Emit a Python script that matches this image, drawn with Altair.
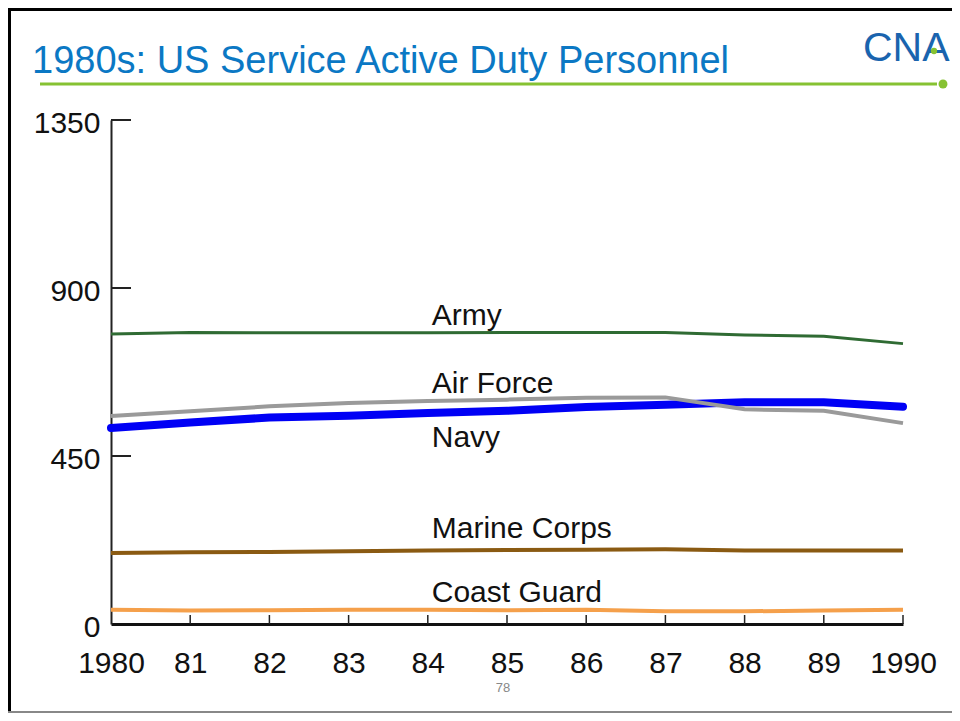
import altair as alt
import pandas as pd

# ---- data ----
years = list(range(1980, 1991))
army = [777, 781, 780, 780, 780, 781, 781, 781, 774, 771, 751]
air_force = [557, 570, 583, 592, 597, 601, 606, 607, 575, 571, 538]
navy = [525, 540, 553, 558, 565, 571, 581, 587, 594, 594, 582]
marine_corps = [190, 192, 193, 195, 197, 198, 199, 200, 197, 197, 197]
coast_guard = [38, 36, 37, 38, 38, 37, 38, 34, 34, 36, 38]

y_ticks = [0, 450, 900, 1350]

series_names = ["Army", "Marine Corps", "Coast Guard", "Navy", "Air Force"]
series_values = [army, marine_corps, coast_guard, navy, air_force]
series_colors = ["#2F6B33", "#8A5A12", "#F5A04B", "#0000F5", "#9A9A9A"]
series_widths = [3, 4, 4, 8, 4]

label_names = ["Army", "Air Force", "Navy", "Marine Corps", "Coast Guard"]
label_year = [1984.05, 1984.05, 1984.05, 1984.05, 1984.05]
label_value = [801, 619, 474, 230, 59]

title_text = "1980s: US Service Active Duty Personnel"
page_no = "78"

FONT = "Liberation Sans"
W, H = 792, 504

rows = []
for name, vals in zip(series_names, series_values):
    for yr, v in zip(years, vals):
        rows.append({"series": name, "year": yr, "value": v})
df = pd.DataFrame(rows)

xscale = alt.Scale(domain=[1980, 1990], nice=False, zero=False)
yscale = alt.Scale(domain=[0, 1350], nice=False)

x_axis = alt.Axis(
    values=years, format="d", title=None, ticks=False, grid=False,
    domainColor="#111", domainWidth=3, labelFontSize=30, labelFont=FONT,
    labelColor="#111", labelPadding=24, labelFlush=False, labelOverlap=False,
    labelExpr="(datum.value == 1980 || datum.value == 1990) ? toString(datum.value) : substring(toString(datum.value), 2)",
)
y_axis = alt.Axis(
    values=y_ticks, format="d", title=None, ticks=False, grid=False,
    domainColor="#222", domainWidth=2, labelFontSize=30, labelFont=FONT,
    labelColor="#111", labelPadding=11, labelOffset=3,
)

layers = []

# axes carrier (invisible)
base_axes = alt.Chart(df).mark_line(opacity=0).encode(
    x=alt.X("year:Q", scale=xscale, axis=x_axis),
    y=alt.Y("value:Q", scale=yscale, axis=y_axis),
    detail="series:N",
)
layers.append(base_axes)

# inward tick marks
ytick_df = pd.DataFrame({"v": y_ticks[1:]})
layers.append(
    alt.Chart(ytick_df).mark_rule(color="#222", strokeWidth=2).encode(
        y=alt.Y("v:Q", scale=yscale), x=alt.value(0), x2=alt.value(20)
    )
)
xtick_df = pd.DataFrame({"yr": years[1:]})
layers.append(
    alt.Chart(xtick_df).mark_rule(color="#222", strokeWidth=1.5).encode(
        x=alt.X("yr:Q", scale=xscale), y=alt.value(H), y2=alt.value(H - 9)
    )
)

# series lines
for name, col, sw in zip(series_names, series_colors, series_widths):
    layers.append(
        alt.Chart(df).transform_filter(alt.datum.series == name)
        .mark_line(color=col, strokeWidth=sw, strokeCap="round" if name == "Navy" else "butt")
        .encode(x=alt.X("year:Q", scale=xscale), y=alt.Y("value:Q", scale=yscale))
    )

# series labels
lab_df = pd.DataFrame({"name": label_names, "yr": label_year, "v": label_value})
layers.append(
    alt.Chart(lab_df).mark_text(align="left", baseline="alphabetic", fontSize=30,
                                font=FONT, color="#111").encode(
        x=alt.X("yr:Q", scale=xscale), y=alt.Y("v:Q", scale=yscale), text="name:N"
    )
)

one = pd.DataFrame({"t": [title_text]})
# slide title
layers.append(
    alt.Chart(one).mark_text(align="left", baseline="alphabetic", fontSize=38,
                             font=FONT, color="#0B78C4").encode(
        text="t:N", x=alt.value(-79), y=alt.value(-47)
    )
)
# green rule under title
layers.append(
    alt.Chart(one).mark_rule(color="#86C232", strokeWidth=3).encode(
        x=alt.value(-71), x2=alt.value(826), y=alt.value(-36)
    )
)
layers.append(
    alt.Chart(one).mark_point(filled=True, shape="circle", size=80, color="#86C232", opacity=1).encode(
        x=alt.value(832), y=alt.value(-36)
    )
)
# CNA logo text
logo = pd.DataFrame({"t": ["CNA"]})
layers.append(
    alt.Chart(logo).mark_text(align="left", baseline="alphabetic", fontSize=41,
                              font=FONT, color="#1A64AE").encode(
        text="t:N", x=alt.value(752), y=alt.value(-59)
    )
)
layers.append(
    alt.Chart(logo).mark_point(filled=True, shape="circle", size=40, color="#86C232", opacity=1).encode(
        x=alt.value(823), y=alt.value(-69)
    )
)
# page number
pg = pd.DataFrame({"t": [page_no]})
layers.append(
    alt.Chart(pg).mark_text(align="center", baseline="middle", fontSize=13,
                            font=FONT, color="#888").encode(
        text="t:N", x=alt.value(392), y=alt.value(568)
    )
)
# slide frame
layers.append(
    alt.Chart(one).mark_rule(color="#000", strokeWidth=3).encode(
        x=alt.value(-103), x2=alt.value(841), y=alt.value(-110.5)
    )
)
layers.append(
    alt.Chart(one).mark_rule(color="#000", strokeWidth=3).encode(
        x=alt.value(-101.5), y=alt.value(-112), y2=alt.value(593)
    )
)
layers.append(
    alt.Chart(one).mark_rule(color="#888", strokeWidth=2).encode(
        x=alt.value(-103), x2=alt.value(841), y=alt.value(592)
    )
)

chart = alt.layer(*layers).properties(
    width=W, height=H,
    autosize=alt.AutoSizeParams(type="none"),
    padding={"left": 103, "top": 112, "right": 49, "bottom": 89},
    background="white",
).configure_view(stroke=None)

chart.save("out.html", embed_options={"renderer": "svg", "actions": False})
